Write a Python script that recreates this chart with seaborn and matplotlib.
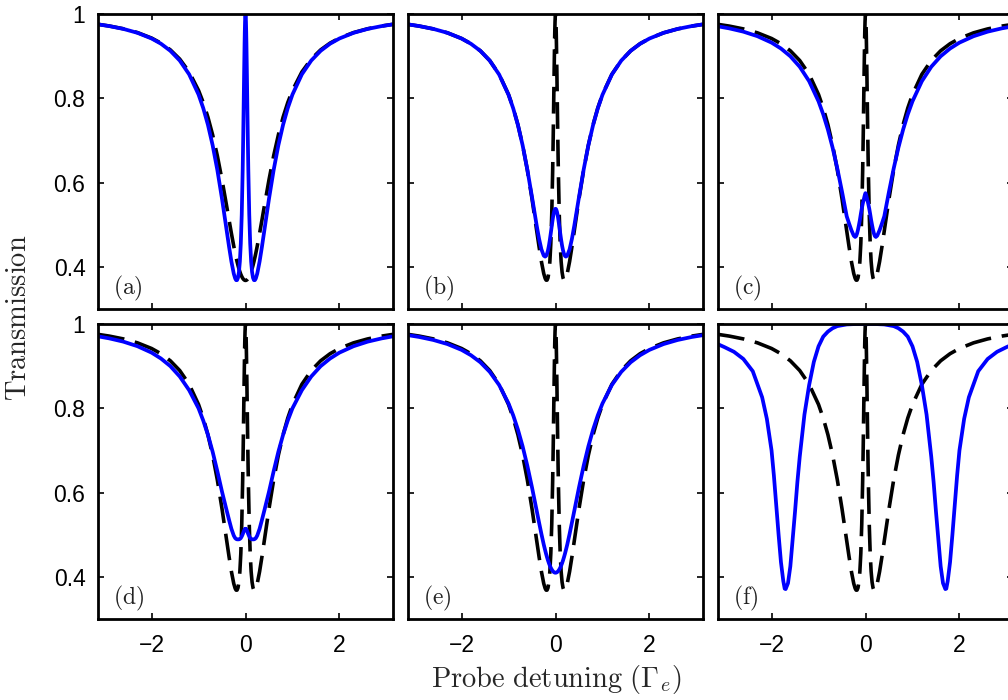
import matplotlib
matplotlib.use("Agg")
import matplotlib.pyplot as plt
import seaborn as sns

# ---- data (probe detuning in units of Gamma_e) ----
detuning = [-3.14, -2.9, -2.6, -2.3, -2.0, -1.8, -1.6, -1.4, -1.2, -1.0, -0.9, -0.8, -0.7, -0.6,
            -0.5, -0.4, -0.35, -0.3, -0.25, -0.22, -0.2, -0.18, -0.16, -0.14, -0.12, -0.1,
            -0.08, -0.06, -0.05, -0.04, -0.03, -0.02, -0.015, -0.01, -0.005, 0.0,
            0.005, 0.01, 0.015, 0.02, 0.03, 0.04, 0.05, 0.06, 0.08, 0.1, 0.12, 0.14, 0.16,
            0.18, 0.2, 0.22, 0.25, 0.3, 0.35, 0.4, 0.5, 0.6, 0.7, 0.8, 0.9, 1.0, 1.2, 1.4,
            1.6, 1.8, 2.0, 2.3, 2.6, 2.9, 3.14]

# dashed curve in (a): two-level absorption
two_level = [0.9756, 0.9715, 0.9650, 0.9559, 0.9429, 0.9309, 0.9149, 0.8930, 0.8625, 0.8187,
             0.7899, 0.7551, 0.7133, 0.6638, 0.6065, 0.5434, 0.5111, 0.4794, 0.4493, 0.4327,
             0.4223, 0.4126, 0.4037, 0.3956, 0.3885, 0.3823, 0.3772, 0.3731, 0.3715, 0.3702,
             0.3692, 0.3685, 0.3682, 0.3680, 0.3679, 0.3679,
             0.3679, 0.3680, 0.3682, 0.3685, 0.3692, 0.3702, 0.3715, 0.3731, 0.3772, 0.3823,
             0.3885, 0.3956, 0.4037, 0.4126, 0.4223, 0.4327, 0.4493, 0.4794, 0.5111, 0.5434,
             0.6065, 0.6638, 0.7133, 0.7551, 0.7899, 0.8187, 0.8625, 0.8930, 0.9149, 0.9309,
             0.9429, 0.9559, 0.9650, 0.9715, 0.9756]

# ideal EIT: solid in (a), dashed reference in (b)-(f)
eit_ideal = [0.9754, 0.9713, 0.9646, 0.9553, 0.9419, 0.9295, 0.9127, 0.8896, 0.8569, 0.8090,
             0.7768, 0.7372, 0.6888, 0.6303, 0.5615, 0.4856, 0.4477, 0.4126, 0.3840, 0.3726,
             0.3685, 0.3685, 0.3741, 0.3875, 0.4126, 0.4551, 0.5240, 0.6303, 0.6993, 0.7768,
             0.8569, 0.9295, 0.9588, 0.9812, 0.9952, 1.0,
             0.9952, 0.9812, 0.9588, 0.9295, 0.8569, 0.7768, 0.6993, 0.6303, 0.5240, 0.4551,
             0.4126, 0.3875, 0.3741, 0.3685, 0.3685, 0.3726, 0.3840, 0.4126, 0.4477, 0.4856,
             0.5615, 0.6303, 0.6888, 0.7372, 0.7768, 0.8090, 0.8569, 0.8896, 0.9127, 0.9295,
             0.9419, 0.9553, 0.9646, 0.9713, 0.9754]

trans_b = [0.9754, 0.9713, 0.9646, 0.9553, 0.9418, 0.9293, 0.9126, 0.8894, 0.8564, 0.8083,
           0.7760, 0.7365, 0.6885, 0.6311, 0.5655, 0.4976, 0.4667, 0.4416, 0.4266, 0.4243,
           0.4262, 0.4311, 0.4392, 0.4503, 0.4643, 0.4802, 0.4968, 0.5126, 0.5197, 0.5259,
           0.5310, 0.5347, 0.5361, 0.5370, 0.5376, 0.5378,
           0.5376, 0.5370, 0.5361, 0.5347, 0.5310, 0.5259, 0.5197, 0.5126, 0.4968, 0.4802,
           0.4643, 0.4503, 0.4392, 0.4311, 0.4262, 0.4243, 0.4266, 0.4416, 0.4667, 0.4976,
           0.5655, 0.6311, 0.6885, 0.7365, 0.7760, 0.8083, 0.8564, 0.8894, 0.9126, 0.9293,
           0.9418, 0.9553, 0.9646, 0.9713, 0.9754]

trans_c = [0.9707, 0.9659, 0.9581, 0.9473, 0.9321, 0.9181, 0.8997, 0.8748, 0.8406, 0.7928,
           0.7619, 0.7255, 0.6827, 0.6334, 0.5784, 0.520, 0.503, 0.487, 0.474, 0.471,
           0.473, 0.479, 0.488, 0.499, 0.511, 0.525, 0.538, 0.549, 0.554, 0.558,
           0.563, 0.568, 0.570, 0.572, 0.574, 0.575,
           0.574, 0.572, 0.570, 0.568, 0.563, 0.558, 0.554, 0.549, 0.538, 0.525,
           0.511, 0.499, 0.488, 0.479, 0.473, 0.471, 0.474, 0.487, 0.503, 0.520,
           0.5784, 0.6334, 0.6827, 0.7255, 0.7619, 0.7928, 0.8406, 0.8748, 0.8997, 0.9181,
           0.9321, 0.9473, 0.9581, 0.9659, 0.9707]

trans_d = [0.9707, 0.9659, 0.9581, 0.9473, 0.9321, 0.9181, 0.900, 0.8755, 0.843, 0.800,
           0.771, 0.737, 0.697, 0.651, 0.602, 0.557, 0.535, 0.514, 0.498, 0.492,
           0.490, 0.489, 0.489, 0.489, 0.490, 0.492, 0.496, 0.501, 0.504, 0.507,
           0.510, 0.512, 0.513, 0.513, 0.514, 0.514,
           0.514, 0.513, 0.513, 0.512, 0.510, 0.507, 0.504, 0.501, 0.496, 0.492,
           0.490, 0.489, 0.489, 0.489, 0.490, 0.492, 0.498, 0.514, 0.535, 0.557,
           0.602, 0.651, 0.697, 0.737, 0.771, 0.800, 0.843, 0.8755, 0.900, 0.9181,
           0.9321, 0.9473, 0.9581, 0.9659, 0.9707]

trans_e = [0.9735, 0.9692, 0.9621, 0.9524, 0.9386, 0.9259, 0.9092, 0.8865, 0.8553, 0.8114,
           0.7831, 0.7494, 0.7097, 0.6638, 0.6121, 0.5567, 0.5289, 0.5019, 0.4765, 0.4630,
           0.4543, 0.4464, 0.4391, 0.4324, 0.4266, 0.4215, 0.4174, 0.4141, 0.4128, 0.4117,
           0.4109, 0.4103, 0.4101, 0.4099, 0.4099, 0.4098,
           0.4099, 0.4099, 0.4101, 0.4103, 0.4109, 0.4117, 0.4128, 0.4141, 0.4174, 0.4215,
           0.4266, 0.4324, 0.4391, 0.4464, 0.4543, 0.4630, 0.4765, 0.5019, 0.5289, 0.5567,
           0.6121, 0.6638, 0.7097, 0.7494, 0.7831, 0.8114, 0.8553, 0.8865, 0.9092, 0.9259,
           0.9386, 0.9524, 0.9621, 0.9692, 0.9735]

detuning_f = [-3.14, -3.0, -2.8, -2.6, -2.4, -2.2, -2.1, -2.0, -1.95, -1.9, -1.85, -1.8, -1.75,
              -1.72, -1.7, -1.65, -1.6, -1.55, -1.5, -1.45, -1.4, -1.3, -1.2, -1.1, -1.0,
              -0.9, -0.8, -0.7, -0.6, -0.4, -0.2, 0.0,
              0.2, 0.4, 0.6, 0.7, 0.8, 0.9, 1.0, 1.1, 1.2, 1.3, 1.4, 1.45, 1.5, 1.55, 1.6,
              1.65, 1.7, 1.72, 1.75, 1.8, 1.85, 1.9, 1.95, 2.0, 2.1, 2.2, 2.4, 2.6, 2.8,
              3.0, 3.14]

trans_f = [0.952, 0.945, 0.934, 0.917, 0.888, 0.826, 0.775, 0.700, 0.640, 0.570, 0.500, 0.435,
           0.390, 0.372, 0.371, 0.385, 0.425, 0.490, 0.555, 0.625, 0.685, 0.785, 0.855,
           0.910, 0.947, 0.970, 0.982, 0.990, 0.995, 0.999, 1.000, 1.000,
           1.000, 0.999, 0.995, 0.990, 0.982, 0.970, 0.947, 0.910, 0.855, 0.785, 0.685,
           0.625, 0.555, 0.490, 0.425, 0.385, 0.371, 0.372, 0.390, 0.435, 0.500, 0.570,
           0.640, 0.700, 0.775, 0.826, 0.888, 0.917, 0.934, 0.945, 0.952]

panel_labels = ["(a)", "(b)", "(c)", "(d)", "(e)", "(f)"]
x_ticks = [-2, 0, 2]
x_tick_labels = ["\u22122", "0", "2"]
y_ticks = [0.4, 0.6, 0.8, 1.0]
y_tick_labels = ["0.4", "0.6", "0.8", "1"]
x_label = r"$\mathrm{Probe\ detuning\ }(\Gamma_e)$"
y_label = r"$\mathrm{Transmission}$"

panels = [
    (detuning, eit_ideal, detuning, two_level),
    (detuning, trans_b, detuning, eit_ideal),
    (detuning, trans_c, detuning, eit_ideal),
    (detuning, trans_d, detuning, eit_ideal),
    (detuning, trans_e, detuning, eit_ideal),
    (detuning_f, trans_f, detuning, eit_ideal),
]

# ---- styling ----
sns.set_theme(style="ticks")
plt.rcParams["font.family"] = ["Liberation Sans", "DejaVu Sans"]
plt.rcParams["mathtext.fontset"] = "cm"
plt.rcParams["axes.unicode_minus"] = True

FW, FH = 1008, 700
fig = plt.figure(figsize=(FW / 100, FH / 100), dpi=100)

col_left = [98, 408, 718]
row_top = [14, 324]
ax_w = 295
ax_h = 295

for i, (bx, by, dx, dy) in enumerate(panels):
    r, c = divmod(i, 3)
    left = col_left[c] / FW
    bottom = 1 - (row_top[r] + ax_h) / FH
    ax = fig.add_axes([left, bottom, ax_w / FW, ax_h / FH])
    sns.lineplot(x=dx, y=dy, ax=ax, color="black", linewidth=2.6,
                 linestyle=(0, (7.4, 3.0)), estimator=None, sort=False)
    sns.lineplot(x=bx, y=by, ax=ax, color="#0000ff", linewidth=2.7,
                 estimator=None, sort=False)
    ax.set_xlim(-3.14, 3.14)
    ax.set_ylim(0.3, 1.0)
    ax.set_xticks(x_ticks)
    ax.set_yticks(y_ticks)
    ax.set_xlabel("")
    ax.set_ylabel("")
    if r == 1:
        ax.set_xticklabels(x_tick_labels)
    else:
        ax.set_xticklabels([])
    if c == 0:
        ax.set_yticklabels(y_tick_labels)
    else:
        ax.set_yticklabels([])
    ax.tick_params(direction="in", length=4, width=1.2, top=True, right=True,
                   labelsize=16.5, colors="black")
    ax.tick_params(axis="x", pad=11)
    ax.tick_params(axis="y", pad=9)
    for sp in ax.spines.values():
        sp.set_linewidth(2.0)
        sp.set_color("black")
        sp.set_visible(True)
    ax.text(0.05, 0.05, r"$\mathrm{" + panel_labels[i] + "}$", transform=ax.transAxes,
            fontsize=17, ha="left", va="baseline", color="#222222")

fig.text(0.019, 0.546, y_label, rotation=90, ha="center", va="center", fontsize=20.5)
fig.text(0.552, 0.029, x_label, ha="center", va="center", fontsize=20.5)

fig.savefig("out.png", dpi=100)
